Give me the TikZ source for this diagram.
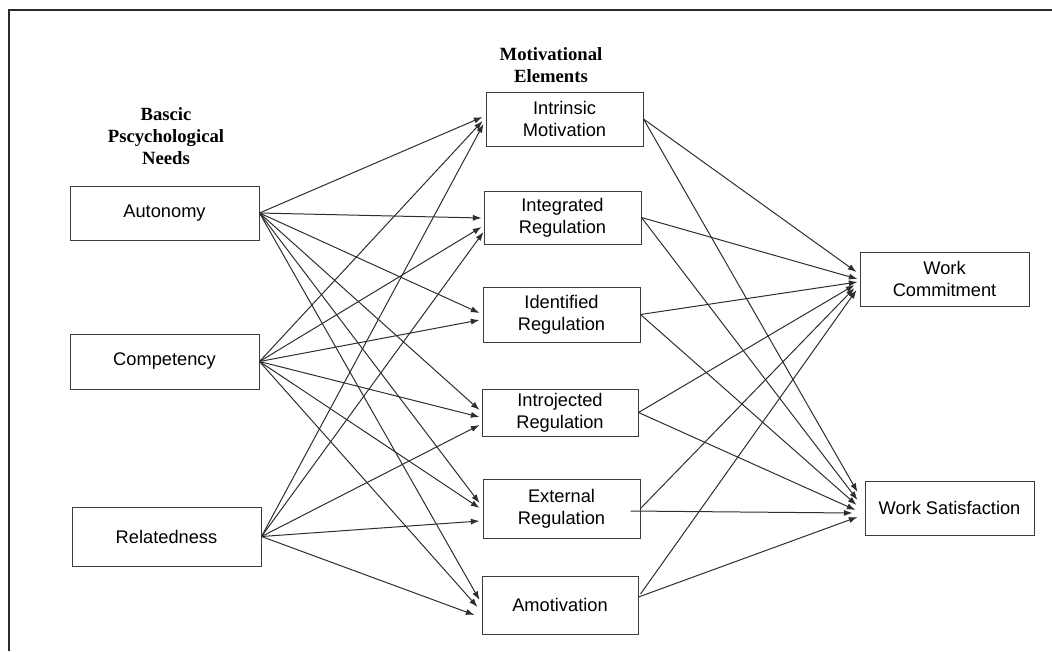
\documentclass[tikz,border=0pt]{standalone}
\usepackage{fontspec}
\setmainfont{Liberation Serif}
\newfontfamily\boxfont{Liberation Sans}
\usetikzlibrary{arrows.meta,calc}
\definecolor{boxc}{HTML}{3C3C3C}
\definecolor{linec}{HTML}{2E2E2E}
\definecolor{framec}{HTML}{2A2A2A}
\begin{document}
\begin{tikzpicture}[x=0.75pt,y=-0.75pt,
  box/.style 2 args={draw=boxc, line width=0.75pt, minimum width=#1*0.75pt, minimum height=#2*0.75pt,
    inner sep=0pt, align=center, font=\boxfont\fontsize{13.7}{16.5}\selectfont},
  head/.style={font=\bfseries\fontsize{14}{16.5}\selectfont, align=center, anchor=base},
  arr/.style={draw=linec, line width=0.75pt, -{Latex[length=6.5pt,width=4.6pt]}}]
\useasboundingbox (0,0) rectangle (1052,651);
\draw[line width=1.5pt, framec] (9,651) -- (9,10) -- (1052,10);

% headers (anchor = baseline of last line)
\node[head] (hbasic) at (166,164) {Bascic\\Pscychological\\Needs};
\node[head] (hmot) at (551,82) {Motivational\\Elements};

% left column
\node[box={189}{54}] (aut) at (164.5,213) {Autonomy};
\node[box={189}{55}] (comp) at (164.5,361.5) {Competency};
\node[box={189}{59}] (rel) at (166.5,536.5) {Relatedness};

% middle column
\node[box={157}{54}] (im) at (564.5,119) {Intrinsic\\Motivation};
\node[box={157}{53}] (ig) at (562.5,217.5) {Integrated\\Regulation};
\node[box={157}{55}] (id) at (561.5,314.5) {Identified\\Regulation};
\node[box={156}{47}] (ij) at (560,412.5) {Introjected\\Regulation};
\node[box={157}{59}] (ex) at (561.5,508.5) {External\\Regulation};
\node[box={156}{58}] (am) at (560,605) {Amotivation};

% right column
\node[box={169}{54}] (wc) at (944.5,279) {Work\\Commitment};
\node[box={169}{54}] (ws) at (949.5,508) {Work Satisfaction};

% needs -> motivational elements
\draw[arr] (aut.east) -- ([shift={(-3,-2)}]im.west);
\draw[arr] (aut.east) -- ([shift={(-2,0.5)}]ig.west);
\draw[arr] (aut.east) -- ([shift={(-3,-1.5)}]id.west);
\draw[arr] (aut.east) -- ([shift={(-2,-2.5)}]ij.west);
\draw[arr] (aut.east) -- ([shift={(-3,-5.5)}]ex.west);
\draw[arr] (aut.east) -- ([shift={(-2,-5)}]am.west);

\draw[arr] (comp.east) -- ([shift={(-3,2)}]im.west);
\draw[arr] (comp.east) -- ([shift={(-2,9.5)}]ig.west);
\draw[arr] (comp.east) -- ([shift={(-3,5.5)}]id.west);
\draw[arr] (comp.east) -- ([shift={(-2,4.5)}]ij.west);
\draw[arr] (comp.east) -- ([shift={(-3,-0.5)}]ex.west);
\draw[arr] (comp.east) -- ([shift={(-4,2)}]am.west);

\draw[arr] (rel.east) -- ([shift={(-2,5)}]im.west);
\draw[arr] (rel.east) -- ([shift={(0,14.5)}]ig.west);
\draw[arr] (rel.east) -- ([shift={(-2,12.5)}]ij.west);
\draw[arr] (rel.east) -- ([shift={(-3,12.5)}]ex.west);
\draw[arr] (rel.east) -- ([shift={(-7,10)}]am.west);

% motivational elements -> outcomes
\draw[arr] (im.east) -- ([shift={(-3,-7)}]wc.west);
\draw[arr] (im.east) -- ([shift={(-7,-16)}]ws.west);
\draw[arr] (ig.east) -- ([shift={(-2,0)}]wc.west);
\draw[arr] (ig.east) -- ([shift={(-7,-8)}]ws.west);
\draw[arr] (id.east) -- ([shift={(-2,3)}]wc.west);
\draw[arr] (id.east) -- ([shift={(-8,-3)}]ws.west);
\draw[arr] (ij.east) -- ([shift={(-5,6)}]wc.west);
\draw[arr] (ij.east) -- ([shift={(-9,2)}]ws.west);
\draw[arr] (ex.east) -- ([shift={(-5,9)}]wc.west);
\draw[arr] ([shift={(-10,2.5)}]ex.east) -- ([shift={(-12,5)}]ws.west);
\draw[arr] ([shift={(2,-11)}]am.east) -- ([shift={(-3,11)}]wc.west);
\draw[arr] ([shift={(0,-8)}]am.east) -- ([shift={(-7,9)}]ws.west);
\end{tikzpicture}
\end{document}
